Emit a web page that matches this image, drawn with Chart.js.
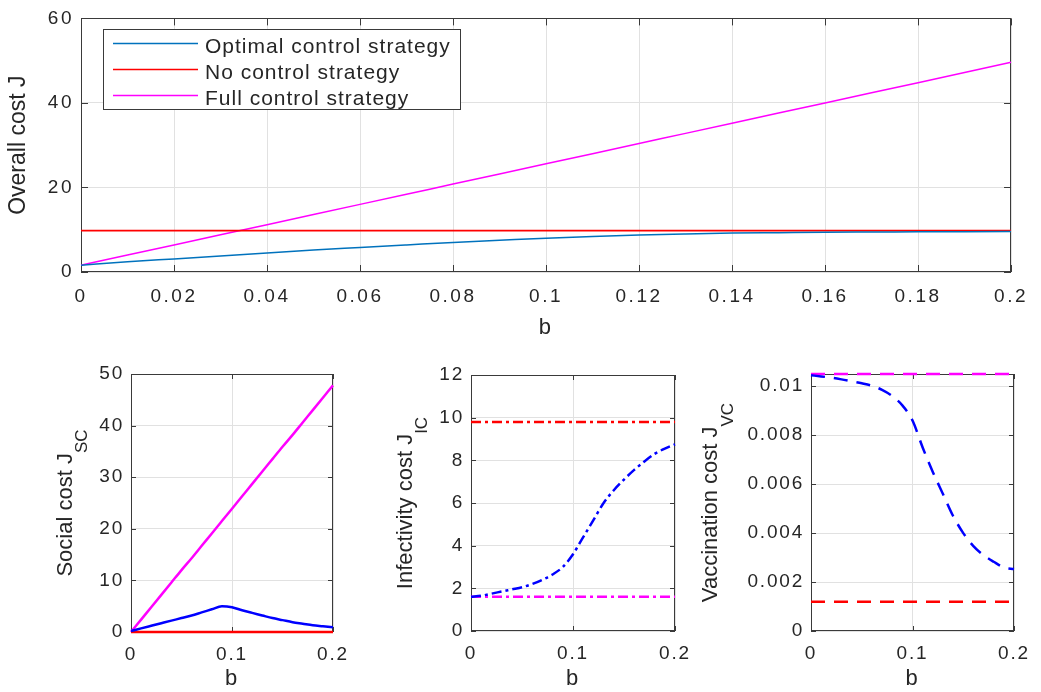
<!DOCTYPE html>
<html>
<head>
<meta charset="utf-8">
<script src="https://cdn.jsdelivr.net/npm/chart.js@4.4.0/dist/chart.umd.min.js"></script>
<style>
  html, body { margin: 0; padding: 0; background: #fff; }
  #wrap { position: relative; width: 1041px; height: 692px; overflow: hidden; }
  canvas { position: absolute; }
</style>
</head>
<body>
<div id="wrap">
  <canvas id="overall"></canvas>
  <canvas id="social"></canvas>
  <canvas id="infect"></canvas>
  <canvas id="vacc"></canvas>
</div>
<script>
// b values shared by every panel
const bValues = [0, 0.01, 0.02, 0.03, 0.04, 0.05, 0.06, 0.07, 0.08, 0.09, 0.1,
                 0.11, 0.12, 0.13, 0.14, 0.15, 0.16, 0.17, 0.18, 0.19, 0.2];

const seriesLabels = ['Optimal control strategy', 'No control strategy', 'Full control strategy'];

// overall cost J
const overallOptimal = [1.6, 2.4, 3.1, 3.8, 4.5, 5.2, 5.8, 6.4, 7.0, 7.5, 8.0,
                        8.4, 8.75, 9.0, 9.2, 9.3, 9.4, 9.45, 9.5, 9.55, 9.6];
const overallNone = [9.8, 9.8, 9.8, 9.8, 9.8, 9.8, 9.8, 9.8, 9.8, 9.8, 9.8,
                     9.8, 9.8, 9.8, 9.8, 9.8, 9.8, 9.8, 9.8, 9.8, 9.8];
const overallFull = [1.6, 4.0, 6.4, 8.8, 11.2, 13.6, 16.0, 18.4, 20.8, 23.2, 25.6,
                     28.0, 30.4, 32.8, 35.2, 37.6, 40.0, 42.4, 44.8, 47.2, 49.6];

// social cost J_SC
const socialOptimal = [0.2, 0.7, 1.2, 1.7, 2.2, 2.7, 3.2, 3.8, 4.4, 5.0, 4.8,
                       4.2, 3.7, 3.2, 2.7, 2.3, 1.9, 1.6, 1.3, 1.1, 0.9];
const socialNone = [0, 0, 0, 0, 0, 0, 0, 0, 0, 0, 0,
                    0, 0, 0, 0, 0, 0, 0, 0, 0, 0];
const socialFull = [0, 2.4, 4.8, 7.2, 9.6, 12.0, 14.3, 16.7, 19.1, 21.5, 23.9,
                    26.3, 28.7, 31.1, 33.5, 35.9, 38.2, 40.6, 43.0, 45.4, 47.8];

// infectivity cost J_IC
const infectOptimal = [1.6, 1.65, 1.75, 1.85, 1.95, 2.05, 2.2, 2.4, 2.65, 3.0, 3.6,
                       4.4, 5.2, 6.0, 6.6, 7.1, 7.55, 7.95, 8.3, 8.55, 8.75];
const infectNone = [9.8, 9.8, 9.8, 9.8, 9.8, 9.8, 9.8, 9.8, 9.8, 9.8, 9.8,
                    9.8, 9.8, 9.8, 9.8, 9.8, 9.8, 9.8, 9.8, 9.8, 9.8];
const infectFull = [1.6, 1.6, 1.6, 1.6, 1.6, 1.6, 1.6, 1.6, 1.6, 1.6, 1.6,
                    1.6, 1.6, 1.6, 1.6, 1.6, 1.6, 1.6, 1.6, 1.6, 1.6];

// vaccination cost J_VC
const vaccOptimal = [0.01045, 0.0104, 0.01035, 0.01028, 0.0102, 0.01012, 0.01002, 0.00985, 0.0096, 0.00922, 0.0086,
                     0.0075, 0.0065, 0.0056, 0.0047, 0.004, 0.00347, 0.0031, 0.00283, 0.0026, 0.00253];
const vaccNone = [0.0012, 0.0012, 0.0012, 0.0012, 0.0012, 0.0012, 0.0012, 0.0012, 0.0012, 0.0012, 0.0012,
                  0.0012, 0.0012, 0.0012, 0.0012, 0.0012, 0.0012, 0.0012, 0.0012, 0.0012, 0.0012];
const vaccFull = [0.0105, 0.0105, 0.0105, 0.0105, 0.0105, 0.0105, 0.0105, 0.0105, 0.0105, 0.0105, 0.0105,
                  0.0105, 0.0105, 0.0105, 0.0105, 0.0105, 0.0105, 0.0105, 0.0105, 0.0105, 0.0105];

// tick labels
const topXTicks = [0, 0.02, 0.04, 0.06, 0.08, 0.1, 0.12, 0.14, 0.16, 0.18, 0.2];
const topYTicks = [0, 20, 40, 60];
const bottomXTicks = [0, 0.1, 0.2];
const socialYTicks = [0, 10, 20, 30, 40, 50];
const infectYTicks = [0, 2, 4, 6, 8, 10, 12];
const vaccYTicks = [0, 0.002, 0.004, 0.006, 0.008, 0.01];

const FONT = "'Liberation Sans', Arial, sans-serif";
const TEXT = '#262626';
const GRID = '#e1e1e1';
const BOX = '#3a3a3a';

// matlab-ish wide tick text
const spacing = {
  id: 'spacing',
  beforeLayout(chart, args, o) { chart.ctx.letterSpacing = o.value || '0px'; },
  beforeDraw(chart, args, o) { chart.ctx.letterSpacing = o.value || '0px'; }
};

// axes box with inward tick marks, drawn under the lines
const frame = {
  id: 'frame',
  beforeDatasetsDraw(chart, args, o) {
    const { left, top, right, bottom } = chart.chartArea;
    const ctx = chart.ctx;
    const len = o.tick || 5;
    ctx.save();
    ctx.strokeStyle = BOX;
    ctx.lineWidth = 1;
    ctx.setLineDash([]);
    ctx.beginPath();
    chart.scales.x.ticks.forEach(t => {
      const px = Math.round(chart.scales.x.getPixelForValue(t.value)) + 0.5;
      ctx.moveTo(px, bottom); ctx.lineTo(px, bottom - len);
      ctx.moveTo(px, top); ctx.lineTo(px, top + len);
    });
    chart.scales.y.ticks.forEach(t => {
      const py = Math.round(chart.scales.y.getPixelForValue(t.value)) + 0.5;
      ctx.moveTo(left, py); ctx.lineTo(left + len, py);
      ctx.moveTo(right, py); ctx.lineTo(right - len, py);
    });
    ctx.stroke();
    ctx.strokeRect(Math.round(left) + 0.5, Math.round(top) + 0.5,
                   Math.round(right - left) - 1, Math.round(bottom - top) - 1);
    ctx.restore();
  }
};

// rotated y title with subscript
const yTitle = {
  id: 'yTitle',
  afterDraw(chart, args, o) {
    if (!o.main) return;
    const ctx = chart.ctx;
    const ca = chart.chartArea;
    ctx.save();
    ctx.letterSpacing = '0px';
    ctx.fillStyle = TEXT;
    ctx.font = o.size + 'px ' + FONT;
    const w1 = ctx.measureText(o.main).width;
    let w2 = 0;
    if (o.sub) {
      ctx.font = o.subSize + 'px ' + FONT;
      w2 = ctx.measureText(o.sub).width;
    }
    ctx.translate(o.base, (ca.top + ca.bottom) / 2);
    ctx.rotate(-Math.PI / 2);
    ctx.textAlign = 'left';
    ctx.textBaseline = 'alphabetic';
    const start = -(w1 + w2) / 2;
    ctx.font = o.size + 'px ' + FONT;
    ctx.fillText(o.main, start, 0);
    if (o.sub) {
      ctx.font = o.subSize + 'px ' + FONT;
      ctx.fillText(o.sub, start + w1, o.drop);
    }
    ctx.restore();
  }
};

// boxed legend inside the top axes
const boxLegend = {
  id: 'boxLegend',
  afterDatasetsDraw(chart, args, o) {
    if (!o.show) return;
    const ctx = chart.ctx;
    ctx.save();
    ctx.fillStyle = '#fff';
    ctx.fillRect(o.x, o.y, o.w, o.h);
    ctx.strokeStyle = BOX;
    ctx.lineWidth = 1;
    ctx.strokeRect(o.x + 0.5, o.y + 0.5, o.w, o.h);
    ctx.font = o.size + 'px ' + FONT;
    ctx.letterSpacing = o.spacing;
    ctx.textBaseline = 'alphabetic';
    ctx.textAlign = 'left';
    chart.data.datasets.forEach((ds, i) => {
      const y = o.y + o.first + i * o.step;
      ctx.strokeStyle = ds.borderColor;
      ctx.lineWidth = ds.borderWidth;
      ctx.beginPath();
      ctx.moveTo(o.x + 10, y);
      ctx.lineTo(o.x + 95, y);
      ctx.stroke();
      ctx.fillStyle = TEXT;
      ctx.fillText(ds.label, o.x + 102, y + 9.5);
    });
    ctx.restore();
  }
};

Chart.register(spacing, frame, yTitle, boxLegend);

function makePanel(id, rect, area, cfg) {
  const canvas = document.getElementById(id);
  canvas.width = rect.w;
  canvas.height = rect.h;
  canvas.style.left = rect.x + 'px';
  canvas.style.top = rect.y + 'px';
  const yWidth = area.l - rect.x;
  const xHeight = rect.y + rect.h - area.b;

  return new Chart(canvas, {
    type: 'line',
    data: {
      datasets: cfg.series.map(s => ({
        label: s.label,
        data: bValues.map((b, i) => ({ x: b, y: s.values[i] })),
        borderColor: s.color,
        borderWidth: s.width,
        borderDash: s.dash || [],
        pointRadius: 0,
        cubicInterpolationMode: 'monotone',
        fill: false,
        clip: false
      }))
    },
    options: {
      responsive: false,
      animation: false,
      events: [],
      layout: { padding: { left: 0, bottom: 0, top: area.t - rect.y, right: rect.x + rect.w - area.r } },
      plugins: {
        legend: { display: false },
        tooltip: { enabled: false },
        spacing: { value: cfg.spacing },
        frame: { tick: cfg.tick },
        yTitle: cfg.yTitle,
        boxLegend: cfg.legend || { show: false }
      },
      scales: {
        x: {
          type: 'linear', min: 0, max: 0.2,
          afterBuildTicks: s => { s.ticks = cfg.xTicks.map(v => ({ value: v })); },
          afterFit: s => { s.height = xHeight; },
          grid: { color: GRID, drawTicks: false },
          border: { display: false },
          ticks: { color: TEXT, font: { family: FONT, size: 19 }, padding: cfg.xPad,
                   maxRotation: 0, autoSkip: false, callback: v => String(v) },
          title: { display: true, text: 'b', color: TEXT, font: { family: FONT, size: 22 },
                   padding: { top: 0, bottom: cfg.bPad } }
        },
        y: {
          type: 'linear', min: cfg.yMin, max: cfg.yMax,
          afterBuildTicks: s => { s.ticks = cfg.yTicks.map(v => ({ value: v })); },
          afterFit: s => { s.width = yWidth; },
          grid: { color: GRID, drawTicks: false },
          border: { display: false },
          ticks: { color: TEXT, font: { family: FONT, size: 19 }, padding: 7,
                   autoSkip: false, callback: v => String(v) }
        }
      }
    }
  });
}

const BLUE = '#0000ff', RED = '#ff0000', MAGENTA = '#ff00ff';
const DASHDOT = [10, 4, 3, 4];
const DASH = [14, 9];

makePanel('overall', { x: 0, y: 0, w: 1041, h: 345 }, { l: 81, t: 16, r: 1019, b: 272 }, {
  series: [
    { label: seriesLabels[0], values: overallOptimal, color: '#0072bd', width: 1.5 },
    { label: seriesLabels[1], values: overallNone, color: RED, width: 1.6 },
    { label: seriesLabels[2], values: overallFull, color: MAGENTA, width: 1.5 }
  ],
  xTicks: topXTicks, yTicks: topYTicks, yMin: 0, yMax: 60,
  xPad: 13, bPad: 4, spacing: '2.5px', tick: 7,
  yTitle: { main: 'Overall cost J', size: 23, base: 25 },
  legend: { show: true, x: 103, y: 29, w: 357, h: 80, first: 14.5, step: 26, size: 21, spacing: '1px' }
});

makePanel('social', { x: 0, y: 345, w: 380, h: 347 }, { l: 131, t: 374, r: 333, b: 632 }, {
  series: [
    { label: seriesLabels[0], values: socialOptimal, color: BLUE, width: 2.5 },
    { label: seriesLabels[1], values: socialNone, color: RED, width: 2.5 },
    { label: seriesLabels[2], values: socialFull, color: MAGENTA, width: 2.5 }
  ],
  xTicks: bottomXTicks, yTicks: socialYTicks, yMin: 0, yMax: 50,
  xPad: 11, bPad: 0, spacing: '1.8px', tick: 5,
  yTitle: { main: 'Social cost J', sub: 'SC', size: 22, subSize: 17, base: 71.5, drop: 15 }
});

makePanel('infect', { x: 360, y: 345, w: 360, h: 347 }, { l: 471, t: 375, r: 675, b: 631 }, {
  series: [
    { label: seriesLabels[0], values: infectOptimal, color: BLUE, width: 2.5, dash: DASHDOT },
    { label: seriesLabels[1], values: infectNone, color: RED, width: 2.5, dash: DASHDOT },
    { label: seriesLabels[2], values: infectFull, color: MAGENTA, width: 2.5, dash: DASHDOT }
  ],
  xTicks: bottomXTicks, yTicks: infectYTicks, yMin: 0, yMax: 12,
  xPad: 11, bPad: 0, spacing: '1.8px', tick: 5,
  yTitle: { main: 'Infectivity cost J', sub: 'IC', size: 22, subSize: 17, base: 52, drop: 15 }
});

makePanel('vacc', { x: 690, y: 345, w: 351, h: 347 }, { l: 811, t: 374, r: 1014, b: 631 }, {
  series: [
    { label: seriesLabels[0], values: vaccOptimal, color: BLUE, width: 2.5, dash: DASH },
    { label: seriesLabels[1], values: vaccNone, color: RED, width: 2.5, dash: DASH },
    { label: seriesLabels[2], values: vaccFull, color: MAGENTA, width: 2.5, dash: DASH }
  ],
  xTicks: bottomXTicks, yTicks: vaccYTicks, yMin: 0, yMax: 0.0105,
  xPad: 11, bPad: 0, spacing: '1.8px', tick: 5,
  yTitle: { main: 'Vaccination cost J', sub: 'VC', size: 22, subSize: 17, base: 27, drop: 16 }
});
</script>
</body>
</html>
